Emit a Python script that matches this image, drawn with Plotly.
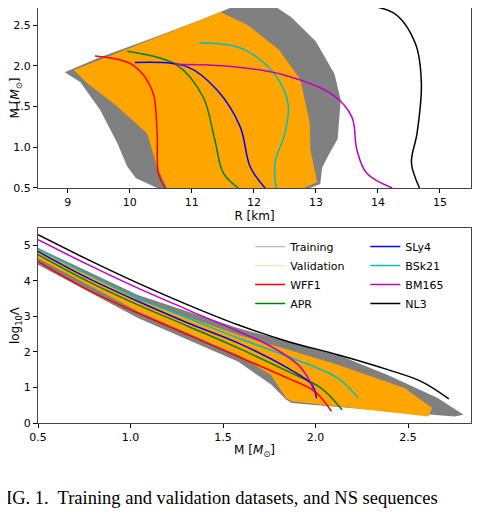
import plotly.graph_objects as go
from plotly.subplots import make_subplots

# ---- M-R panel: envelopes of the training / validation bands (R [km], M)
train_mr_R = [8.95, 9.5, 10.5, 11.2, 11.9, 12.2, 12.6, 13.0, 13.3, 13.4, 13.35, 13.2, 13.1, 13.07, 12.9, 10.44, 10.1, 9.96, 9.8, 9.52, 9.2]
train_mr_M = [1.92, 2.1, 2.38, 2.58, 2.8, 2.8, 2.6, 2.3, 1.9, 1.58, 1.1, 0.9, 0.75, 0.55, 0.5, 0.5, 0.62, 0.76, 1.05, 1.46, 1.8]
valid_mr_R = [9.1, 10.0, 11.0, 11.46, 11.9, 12.4, 12.75, 12.9, 12.91, 13.02, 12.8, 10.6, 10.44, 10.28, 9.8, 9.31]
valid_mr_M = [1.95, 2.22, 2.52, 2.66, 2.5, 2.2, 1.83, 1.3, 0.97, 0.57, 0.5, 0.5, 0.76, 1.17, 1.5, 1.79]

eos_mr = {
    "WFF1": ([9.44, 10.05, 10.36, 10.44, 10.46, 10.57], [2.12, 2.01, 1.70, 1.17, 0.68, 0.5]),
    "APR": ([9.96, 10.76, 11.18, 11.37, 11.51, 11.75], [2.18, 2.01, 1.62, 1.09, 0.68, 0.5]),
    "SLy4": ([10.08, 10.92, 11.41, 11.78, 11.94, 12.18], [2.04, 1.99, 1.70, 1.25, 0.76, 0.5]),
    "BSk21": ([11.12, 11.78, 12.31, 12.55, 12.50, 12.34, 12.36], [2.28, 2.22, 1.92, 1.54, 1.17, 0.81, 0.5]),
    "BM165": ([10.7, 11.67, 12.47, 13.28, 13.58, 13.66, 13.82, 14.23], [2.02, 1.99, 1.89, 1.64, 1.37, 0.97, 0.68, 0.5]),
    "NL3": ([13.36, 14.25, 14.60, 14.70, 14.63, 14.54, 14.67], [2.77, 2.65, 2.28, 1.79, 1.17, 0.81, 0.5]),
}

# ---- M-Lambda panel: band envelopes (M, log10 Lambda)
train_ml_up_M = [0.5, 1.04, 1.58, 1.85, 2.12, 2.39, 2.66, 2.80]
train_ml_up_L = [4.92, 3.60, 2.67, 2.29, 1.92, 1.35, 0.70, 0.23]
train_ml_lo_M = [0.5, 1.04, 1.58, 1.76, 1.84, 1.87, 2.30, 2.75]
train_ml_lo_L = [4.45, 2.95, 1.73, 1.08, 0.66, 0.56, 0.37, 0.18]
valid_ml_up_M = [0.5, 1.04, 1.58, 2.12, 2.48, 2.63, 2.61]
valid_ml_up_L = [4.87, 3.46, 2.48, 1.64, 0.98, 0.42, 0.18]
valid_ml_lo_M = [0.5, 1.04, 1.58, 1.76, 1.84, 1.87, 2.61]
valid_ml_lo_L = [4.63, 3.14, 1.92, 1.35, 0.70, 0.61, 0.18]

eos_ml = {
    "WFF1": ([0.5, 0.77, 1.04, 1.31, 1.58, 1.85, 1.995, 2.086], [4.54, 3.74, 3.09, 2.48, 1.87, 1.26, 0.89, 0.33]),
    "APR": ([0.5, 0.77, 1.04, 1.31, 1.58, 1.85, 2.03, 2.143], [4.73, 3.98, 3.32, 2.72, 2.11, 1.45, 0.98, 0.37]),
    "SLy4": ([0.5, 0.77, 1.04, 1.31, 1.58, 1.85, 1.98, 2.005], [4.82, 4.07, 3.42, 2.81, 2.25, 1.54, 1.08, 0.70]),
    "BSk21": ([0.5, 0.77, 1.04, 1.31, 1.58, 1.85, 2.12, 2.23], [4.90, 4.17, 3.51, 2.95, 2.39, 1.87, 1.26, 0.70]),
    "BM165": ([0.5, 0.77, 1.04, 1.31, 1.58, 1.76, 1.905, 1.96, 2.0], [5.15, 4.45, 3.79, 3.18, 2.58, 2.15, 1.64, 1.26, 0.80]),
    "NL3": ([0.5, 0.77, 1.04, 1.31, 1.58, 1.85, 2.12, 2.39, 2.57, 2.72], [5.29, 4.59, 3.93, 3.32, 2.76, 2.29, 1.92, 1.50, 1.17, 0.68]),
}

colors = {"WFF1": "red", "APR": "green", "SLy4": "blue", "BSk21": "#00BFBF", "BM165": "#BF00BF", "NL3": "black"}
gray = "#808080"
orange = "#FFA500"

fig = make_subplots(rows=2, cols=1, vertical_spacing=0.0)

fig.add_trace(go.Scatter(x=train_mr_R, y=train_mr_M, fill="toself", fillcolor=gray, mode="none",
                         showlegend=False, hoverinfo="skip"), row=1, col=1)
fig.add_trace(go.Scatter(x=valid_mr_R, y=valid_mr_M, fill="toself", fillcolor=orange, mode="none",
                         showlegend=False, hoverinfo="skip"), row=1, col=1)
fig.add_trace(go.Scatter(x=train_ml_up_M + train_ml_lo_M[::-1], y=train_ml_up_L + train_ml_lo_L[::-1],
                         fill="toself", fillcolor=gray, mode="none", showlegend=False, hoverinfo="skip"), row=2, col=1)
fig.add_trace(go.Scatter(x=valid_ml_up_M + valid_ml_lo_M[::-1], y=valid_ml_up_L + valid_ml_lo_L[::-1],
                         fill="toself", fillcolor=orange, mode="none", showlegend=False, hoverinfo="skip"), row=2, col=1)

# legend-only entries for the bands
fig.add_trace(go.Scatter(x=[None], y=[None], mode="lines", line=dict(color="#b8b8b8", width=1.2),
                         name="Training", legend="legend"), row=2, col=1)
fig.add_trace(go.Scatter(x=[None], y=[None], mode="lines", line=dict(color="#FBE3B8", width=1.2),
                         name="Validation", legend="legend"), row=2, col=1)

for name, (r, m) in eos_mr.items():
    fig.add_trace(go.Scatter(x=r, y=m, mode="lines", line=dict(color=colors[name], width=1.5, shape="spline"),
                             showlegend=False), row=1, col=1)
for i, (name, (m, l)) in enumerate(eos_ml.items()):
    fig.add_trace(go.Scatter(x=m, y=l, mode="lines", line=dict(color=colors[name], width=1.5, shape="spline"),
                             name=name, legend="legend" if i < 2 else "legend2"), row=2, col=1)

axis_style = dict(showline=True, linecolor="#444", linewidth=1, mirror=True, ticks="outside",
                  ticklen=4, tickcolor="black", showgrid=False, zeroline=False, automargin=False,
                  tickfont=dict(size=11, color="black"))
fig.update_xaxes(**axis_style)
fig.update_yaxes(**axis_style)

fig.update_xaxes(range=[8.52, 15.5], tickvals=[9, 10, 11, 12, 13, 14, 15],
                 title=dict(text="R [km]", standoff=2, font=dict(size=12)), row=1, col=1)
fig.update_yaxes(range=[0.5, 2.71], tickvals=[0.5, 1.0, 1.5, 2.0, 2.5], tickformat=".1f",
                 title=dict(text="M [<i>M</i><sub>⊙</sub>]", standoff=10, font=dict(size=12)), row=1, col=1)
fig.update_xaxes(range=[0.5, 2.84], tickvals=[0.5, 1.0, 1.5, 2.0, 2.5], tickformat=".1f",
                 title=dict(text="M [<i>M</i><sub>⊙</sub>]", standoff=2, font=dict(size=12)), row=2, col=1)
fig.update_yaxes(range=[0, 5.48], tickvals=[0, 1, 2, 3, 4, 5],
                 title=dict(text="log<sub>10</sub>Λ", standoff=6, font=dict(size=12)), row=2, col=1)

fig.update_layout(
    xaxis=dict(domain=[0, 1]), yaxis=dict(domain=[0.5663, 1.0]),
    yaxis2=dict(domain=[0.0, 0.4699]),
)

legend_style = dict(bgcolor="rgba(255,255,255,0)", font=dict(size=11, color="black"),
                    yanchor="top", xanchor="left", tracegroupgap=0, itemwidth=30)
fig.update_layout(
    legend=dict(x=0.49, y=0.46, **legend_style),
    legend2=dict(x=0.756, y=0.46, **legend_style),
)

fig.add_annotation(text="IG. 1.  Training and validation datasets, and NS sequences", xref="paper", yref="paper",
                   x=0, y=-0.18, xshift=-34, xanchor="left", yanchor="middle", showarrow=False,
                   font=dict(family="Liberation Serif, DejaVu Serif, serif", size=18.5, color="black"))

fig.update_layout(width=490, height=515, margin=dict(l=30, r=27, t=0, b=100, autoexpand=False),
                  plot_bgcolor="white", paper_bgcolor="white",
                  font=dict(family="DejaVu Sans", color="black"))

fig.write_html("out.html")
